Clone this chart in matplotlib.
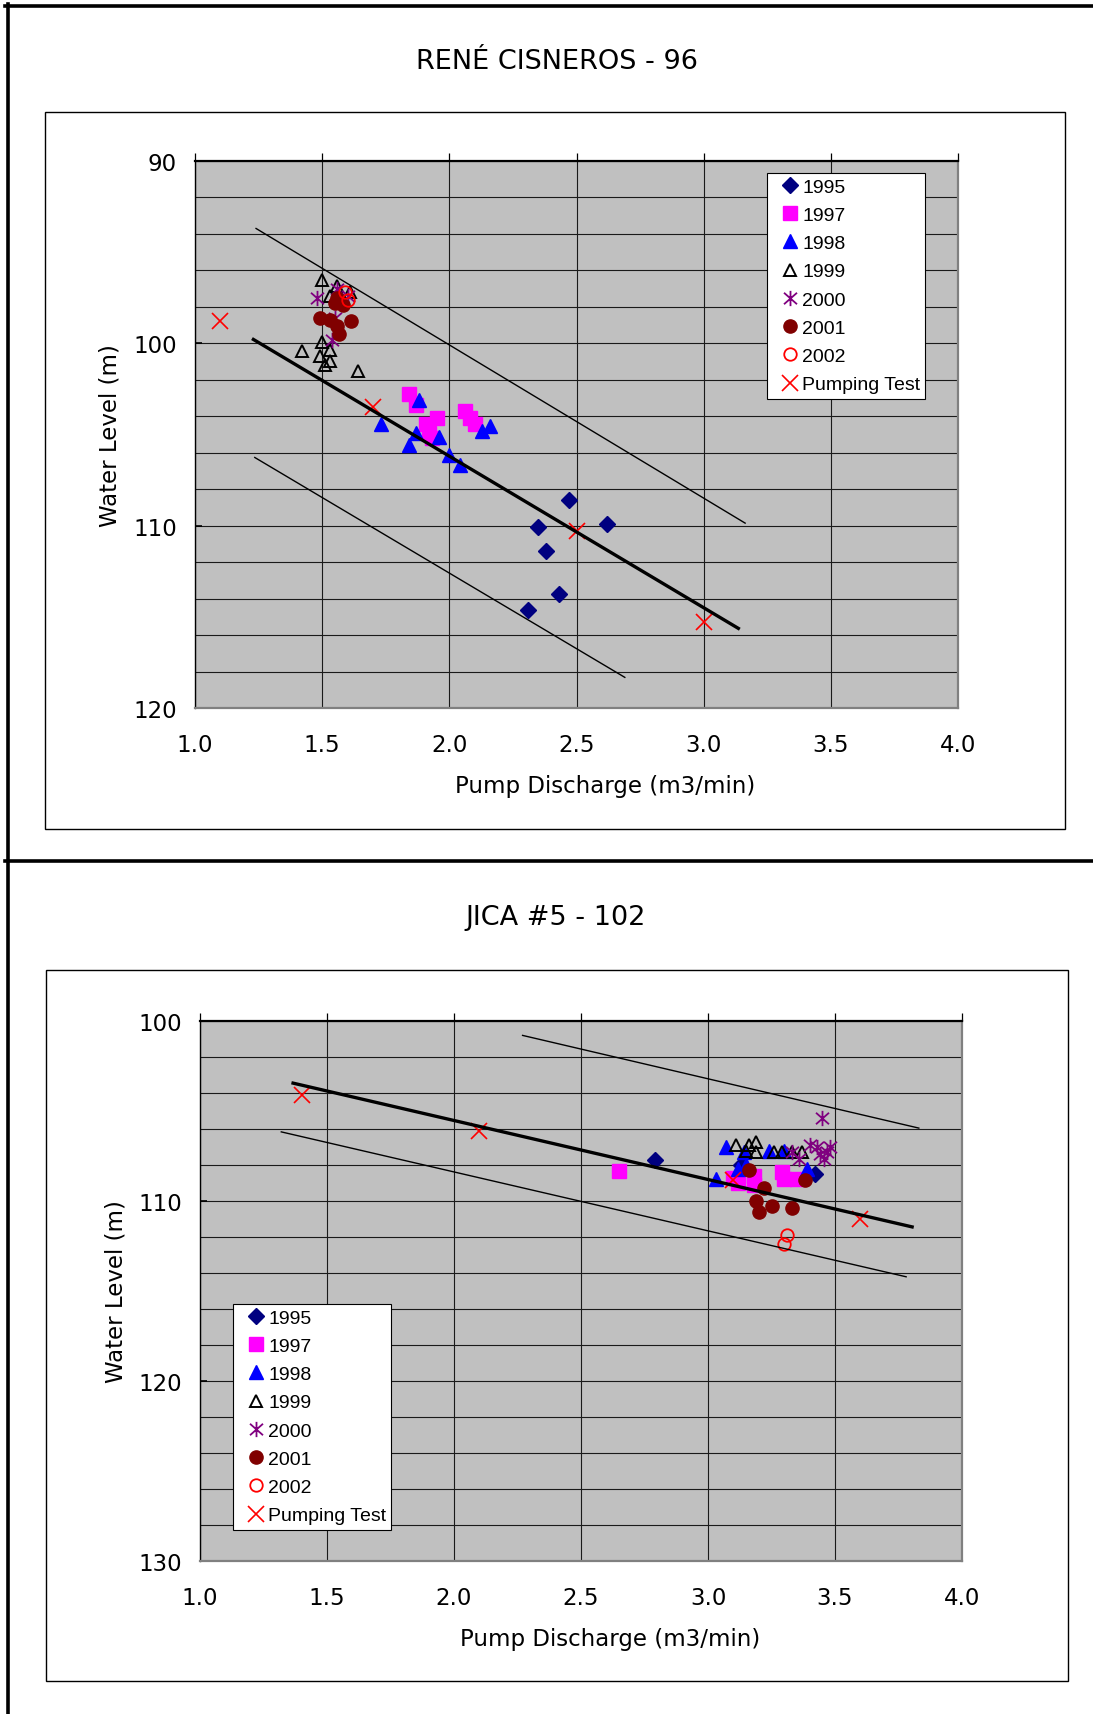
import matplotlib
matplotlib.use("Agg")
import matplotlib.pyplot as plt
from matplotlib.lines import Line2D
from matplotlib.patches import Rectangle
from matplotlib.path import Path
from matplotlib.ticker import FormatStrFormatter

# ---------------- data: RENÉ CISNEROS - 96 ----------------
t1_title = "RENÉ CISNEROS - 96"
t1_1995_x = [2.47, 2.35, 2.62, 2.38, 2.43, 2.31]
t1_1995_y = [108.6, 110.1, 109.9, 111.4, 113.75, 114.6]
t1_1997_x = [1.84, 1.87, 1.95, 1.91, 1.92, 1.93, 2.06, 2.08, 2.10]
t1_1997_y = [102.8, 103.4, 104.1, 104.4, 104.9, 105.2, 103.7, 104.1, 104.4]
t1_1998_x = [1.88, 1.73, 1.87, 1.84, 1.96, 2.00, 2.04, 2.13, 2.16]
t1_1998_y = [103.1, 104.45, 104.9, 105.6, 105.15, 106.15, 106.7, 104.8, 104.55]
t1_1999_x = [1.50, 1.56, 1.53, 1.61, 1.50, 1.42, 1.49, 1.53, 1.53, 1.51, 1.64]
t1_1999_y = [96.5, 96.85, 97.4, 97.2, 99.9, 100.4, 100.7, 100.35, 100.95, 101.2, 101.5]
t1_2000_x = [1.48, 1.56, 1.60, 1.55, 1.54]
t1_2000_y = [97.5, 97.0, 97.4, 98.6, 99.8]
t1_2001_x = [1.55, 1.58, 1.56, 1.49, 1.53, 1.615, 1.56, 1.565]
t1_2001_y = [97.8, 97.9, 97.5, 98.6, 98.7, 98.75, 99.05, 99.5]
t1_2002_x = [1.59, 1.60]
t1_2002_y = [97.2, 97.6]
t1_pt_x = [1.1, 1.7, 2.5, 3.0]
t1_pt_y = [98.8, 103.5, 110.3, 115.3]
t1_fit_x = [1.224, 3.142]
t1_fit_y = [99.74, 115.68]
t1_up_x = [1.24, 3.163]
t1_up_y = [93.7, 109.86]
t1_lo_x = [1.235, 2.69]
t1_lo_y = [106.26, 118.32]
t1_ylim = (120, 90)

# ---------------- data: JICA #5 - 102 ----------------
t2_title = "JICA #5 - 102"
t2_1995_x = [2.79, 3.13, 3.42]
t2_1995_y = [107.7, 108.0, 108.5]
t2_1997_x = [2.65, 3.10, 3.12, 3.18, 3.18, 3.29, 3.30, 3.35]
t2_1997_y = [108.35, 108.7, 109.0, 108.6, 109.1, 108.4, 108.75, 108.75]
t2_1998_x = [3.03, 3.07, 3.12, 3.14, 3.15, 3.24, 3.39, 3.30]
t2_1998_y = [108.8, 107.0, 108.2, 107.3, 108.0, 107.2, 108.2, 107.2]
t2_1999_x = [3.11, 3.15, 3.16, 3.19, 3.19, 3.26, 3.29, 3.33, 3.37]
t2_1999_y = [106.9, 107.2, 106.9, 106.7, 107.3, 107.3, 107.3, 107.3, 107.3]
t2_2000_x = [3.45, 3.33, 3.36, 3.40, 3.43, 3.48, 3.455, 3.44, 3.47]
t2_2000_y = [105.4, 107.3, 107.65, 106.9, 107.0, 107.0, 107.65, 107.4, 107.3]
t2_2001_x = [3.16, 3.22, 3.19, 3.20, 3.25, 3.33, 3.38]
t2_2001_y = [108.3, 109.3, 110.0, 110.6, 110.3, 110.4, 108.85]
t2_2002_x = [3.31, 3.30]
t2_2002_y = [111.9, 112.4]
t2_pt_x = [1.4, 2.1, 3.1, 3.6]
t2_pt_y = [104.1, 106.1, 108.85, 111.0]
t2_fit_x = [1.36, 3.81]
t2_fit_y = [103.43, 111.46]
t2_up_x = [2.27, 3.83]
t2_up_y = [100.8, 105.95]
t2_lo_x = [1.32, 3.78]
t2_lo_y = [106.16, 114.21]
t2_ylim = (130, 100)

x_ticks = [1.0, 1.5, 2.0, 2.5, 3.0, 3.5, 4.0]
series_labels = ["1995", "1997", "1998", "1999", "2000", "2001", "2002", "Pumping Test"]
xlabel = "Pump Discharge (m3/min)"
ylabel = "Water Level (m)"

# ---------------- figure ----------------
W, H = 1093, 1715
fig = plt.figure(figsize=(W / 100, H / 100), dpi=100)
fig.patch.set_facecolor("white")
plt.rcParams["font.family"] = ["DejaVu Sans"]


def fx(px):
    return px / W


def fy(py):
    return 1 - py / H


# asterisk marker: vertical bar + X
ast = Path([(0, -1), (0, 1), (-0.85, -0.75), (0.85, 0.75), (-0.85, 0.75), (0.85, -0.75)],
           [Path.MOVETO, Path.LINETO, Path.MOVETO, Path.LINETO, Path.MOVETO, Path.LINETO])

styles = [
    dict(marker="D", ms=8.5, color="#000080", mec="#000080", mfc="#000080"),
    dict(marker="s", ms=9.5, color="#FF00FF", mec="#FF00FF", mfc="#FF00FF"),
    dict(marker="^", ms=9.5, color="#0000FF", mec="#0000FF", mfc="#0000FF"),
    dict(marker="^", ms=8.5, color="black", mec="black", mfc="none", mew=1.4),
    dict(marker=ast, ms=11, color="#800080", mec="#800080", mew=1.3),
    dict(marker="o", ms=9.5, color="#800000", mec="#800000", mfc="#800000"),
    dict(marker="o", ms=9, color="#FF0000", mec="#FF0000", mfc="none", mew=1.3),
    dict(marker="x", ms=12, color="#FF0000", mec="#FF0000", mew=1.2),
]


def make_chart(rect, ylim, series, fit, up, lo, legend_xy, xlab_pos, ylab_pos):
    ax = fig.add_axes(rect)
    ax.set_facecolor("#C0C0C0")
    for (xs, ys), st, lab in zip(series, styles, series_labels):
        ax.plot(xs, ys, linestyle="none", label=lab, zorder=3, **st)
    ax.plot(fit[0], fit[1], color="black", lw=2.4, zorder=4, solid_capstyle="butt")
    ax.plot(up[0], up[1], color="black", lw=1.0, zorder=4)
    ax.plot(lo[0], lo[1], color="black", lw=1.0, zorder=4)
    ax.set_xlim(1.0, 4.0)
    ax.set_ylim(*ylim)
    top, bot = ylim[1], ylim[0]
    ax.set_xticks(x_ticks)
    ax.xaxis.set_major_formatter(FormatStrFormatter("%.1f"))
    ax.set_yticks(list(range(int(top), int(bot) + 1, 10)))
    ax.set_yticks(list(range(int(top), int(bot) + 1, 2)), minor=True)
    ax.set_axisbelow(True)
    ax.grid(True, which="both", axis="y", color="#1a1a1a", lw=0.8)
    ax.grid(True, which="major", axis="x", color="#1a1a1a", lw=0.8)
    ax.tick_params(axis="x", which="major", top=True, bottom=False, labeltop=False,
                   labelbottom=True, direction="out", length=6, width=0.9,
                   labelsize=16.5, pad=12)
    ax.tick_params(axis="y", which="major", left=True, direction="in", length=5,
                   width=1.2, labelsize=16.5, pad=13)
    ax.tick_params(axis="y", which="minor", length=0)
    ax.spines["top"].set_color("black")
    ax.spines["top"].set_linewidth(1.6)
    ax.spines["left"].set_color("black")
    ax.spines["left"].set_linewidth(1.0)
    for s in ("right", "bottom"):
        ax.spines[s].set_color("#808080")
        ax.spines[s].set_linewidth(1.6)
    ax.set_xlabel(xlabel, fontsize=16.5)
    ax.xaxis.set_label_coords(*xlab_pos)
    ax.set_ylabel(ylabel, fontsize=16.5)
    ax.yaxis.set_label_coords(*ylab_pos)
    leg = ax.legend(loc="upper left", bbox_to_anchor=legend_xy, bbox_transform=fig.transFigure,
                    borderaxespad=0, prop={"family": ["Liberation Sans"], "size": 14},
                    numpoints=1, fancybox=False, framealpha=1, edgecolor="black",
                    handlelength=1.79, handletextpad=-0.26, borderpad=0.27,
                    labelspacing=0.545)
    leg.get_frame().set_linewidth(0.8)
    leg.set_zorder(10)
    return ax


# outer borders
for (x0, y0, x1, y1) in [(5, 6.5, W, 6.5), (7.5, 5, 7.5, H), (5, 862, W, 862)]:
    fig.add_artist(Line2D([fx(x0), fx(x1)], [fy(y0), fy(y1)], transform=fig.transFigure,
                          color="black", lw=2.6))

# chart frames
for (l, t, r, b) in [(45, 113, 1065, 830), (46, 971, 1068, 1682)]:
    fig.add_artist(Rectangle((fx(l), fy(b)), fx(r) - fx(l), fy(t) - fy(b),
                             transform=fig.transFigure, fill=False, edgecolor="black", lw=1.0))

fig.text(fx(557), fy(62), t1_title, ha="center", va="center", fontsize=19.5)
fig.text(fx(556), fy(918), t2_title, ha="center", va="center", fontsize=19.5)

s1 = [(t1_1995_x, t1_1995_y), (t1_1997_x, t1_1997_y), (t1_1998_x, t1_1998_y),
      (t1_1999_x, t1_1999_y), (t1_2000_x, t1_2000_y), (t1_2001_x, t1_2001_y),
      (t1_2002_x, t1_2002_y), (t1_pt_x, t1_pt_y)]
s2 = [(t2_1995_x, t2_1995_y), (t2_1997_x, t2_1997_y), (t2_1998_x, t2_1998_y),
      (t2_1999_x, t2_1999_y), (t2_2000_x, t2_2000_y), (t2_2001_x, t2_2001_y),
      (t2_2002_x, t2_2002_y), (t2_pt_x, t2_pt_y)]

make_chart([fx(195), fy(709), fx(958) - fx(195), fy(162) - fy(709)], t1_ylim, s1,
           (t1_fit_x, t1_fit_y), (t1_up_x, t1_up_y), (t1_lo_x, t1_lo_y),
           (fx(767), fy(174)), (0.537, -0.121), (-0.096, 0.5))
make_chart([fx(200), fy(1562), fx(962) - fx(200), fy(1022) - fy(1562)], t2_ylim, s2,
           (t2_fit_x, t2_fit_y), (t2_up_x, t2_up_y), (t2_lo_x, t2_lo_y),
           (fx(233), fy(1305)), (0.538, -0.122), (-0.095, 0.5))

fig.savefig("out.png", dpi=100)
